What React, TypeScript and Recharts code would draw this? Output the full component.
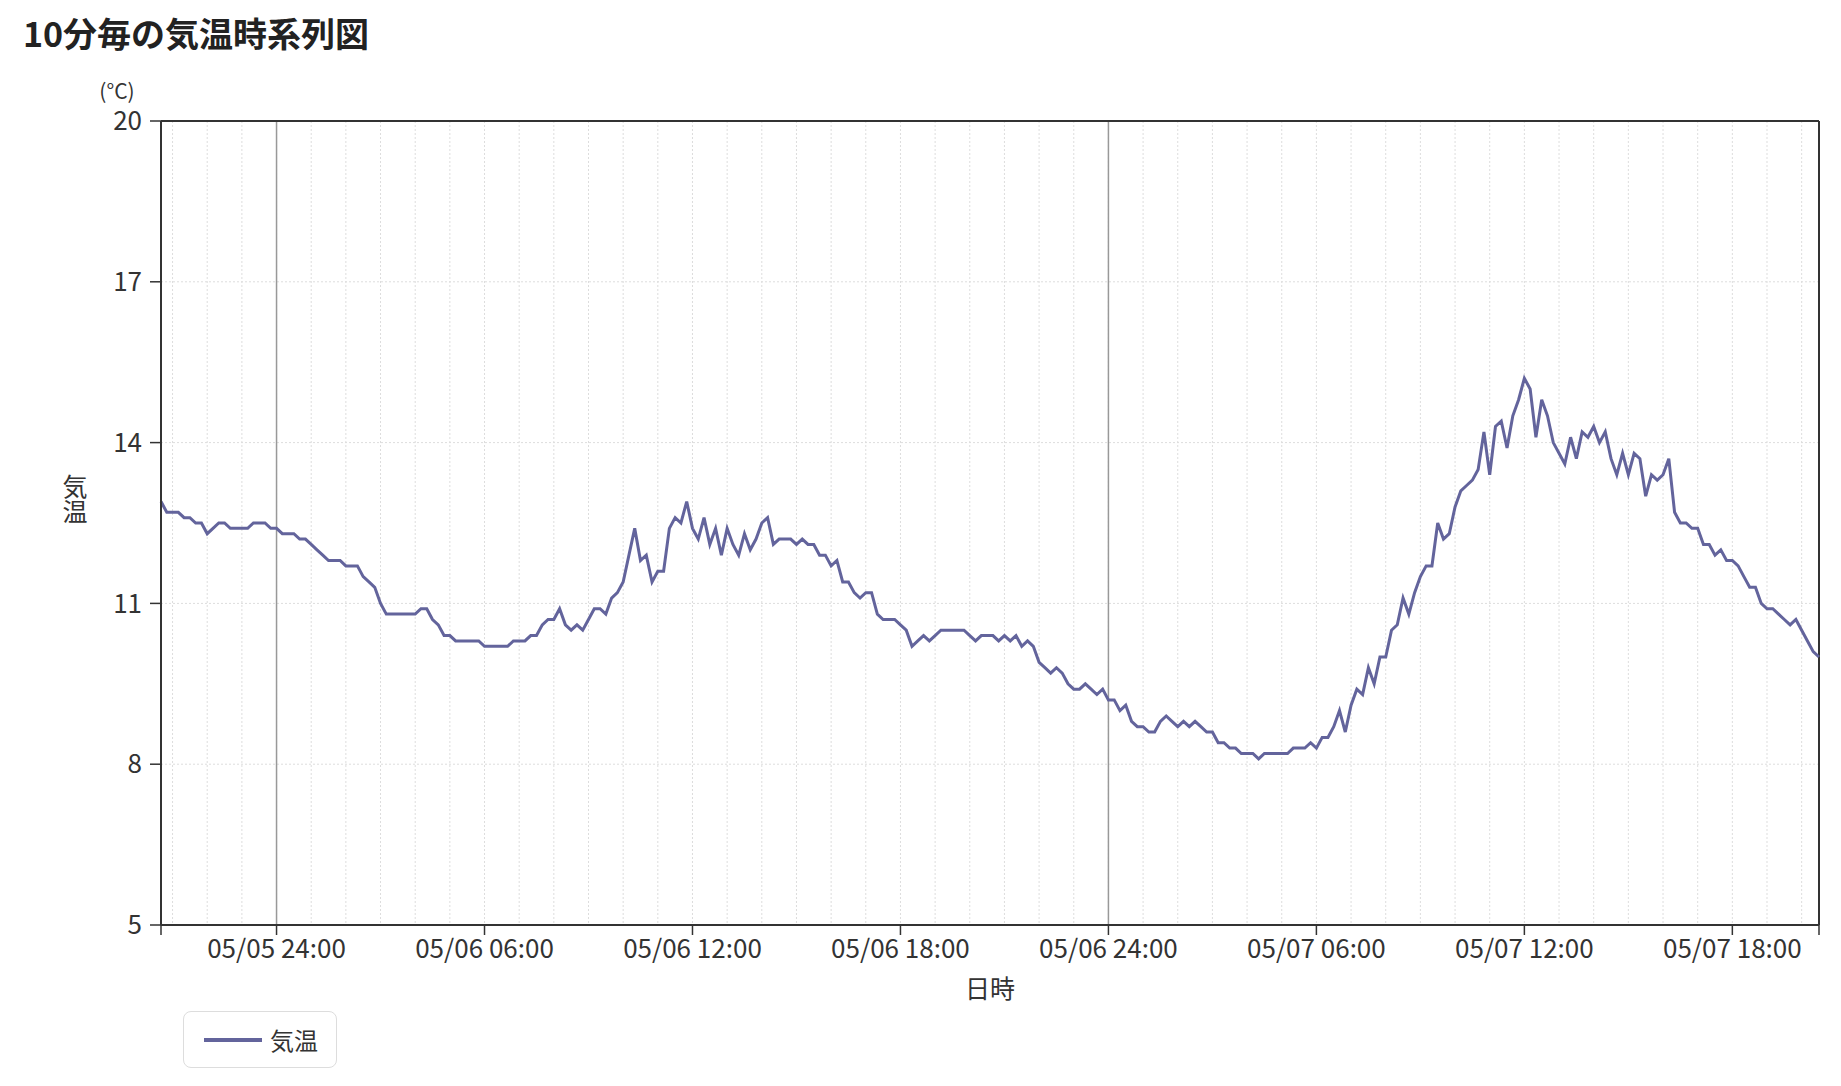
import { LineChart, Line, XAxis, YAxis, CartesianGrid, ReferenceLine, Legend } from "recharts";

const FONT = "'Noto Sans CJK JP', 'Noto Sans', sans-serif";
const LINE_COLOR = "#63649c";
const AXIS_COLOR = "#333";

// 05/05 20:40 から10分毎 (分は 05/05 00:00 起点)
const startMinute = 20 * 60 + 40;
const stepMinutes = 10;

const temps = [
  12.9, 12.7, 12.7, 12.7, 12.6, 12.6, 12.5, 12.5, 12.3, 12.4,
  12.5, 12.5, 12.4, 12.4, 12.4, 12.4, 12.5, 12.5, 12.5, 12.4,
  12.4, 12.3, 12.3, 12.3, 12.2, 12.2, 12.1, 12.0, 11.9, 11.8,
  11.8, 11.8, 11.7, 11.7, 11.7, 11.5, 11.4, 11.3, 11.0, 10.8,
  10.8, 10.8, 10.8, 10.8, 10.8, 10.9, 10.9, 10.7, 10.6, 10.4,
  10.4, 10.3, 10.3, 10.3, 10.3, 10.3, 10.2, 10.2, 10.2, 10.2,
  10.2, 10.3, 10.3, 10.3, 10.4, 10.4, 10.6, 10.7, 10.7, 10.9,
  10.6, 10.5, 10.6, 10.5, 10.7, 10.9, 10.9, 10.8, 11.1, 11.2,
  11.4, 11.9, 12.4, 11.8, 11.9, 11.4, 11.6, 11.6, 12.4, 12.6,
  12.5, 12.9, 12.4, 12.2, 12.6, 12.1, 12.4, 11.9, 12.4, 12.1,
  11.9, 12.3, 12.0, 12.2, 12.5, 12.6, 12.1, 12.2, 12.2, 12.2,
  12.1, 12.2, 12.1, 12.1, 11.9, 11.9, 11.7, 11.8, 11.4, 11.4,
  11.2, 11.1, 11.2, 11.2, 10.8, 10.7, 10.7, 10.7, 10.6, 10.5,
  10.2, 10.3, 10.4, 10.3, 10.4, 10.5, 10.5, 10.5, 10.5, 10.5,
  10.4, 10.3, 10.4, 10.4, 10.4, 10.3, 10.4, 10.3, 10.4, 10.2,
  10.3, 10.2, 9.9, 9.8, 9.7, 9.8, 9.7, 9.5, 9.4, 9.4,
  9.5, 9.4, 9.3, 9.4, 9.2, 9.2, 9.0, 9.1, 8.8, 8.7,
  8.7, 8.6, 8.6, 8.8, 8.9, 8.8, 8.7, 8.8, 8.7, 8.8,
  8.7, 8.6, 8.6, 8.4, 8.4, 8.3, 8.3, 8.2, 8.2, 8.2,
  8.1, 8.2, 8.2, 8.2, 8.2, 8.2, 8.3, 8.3, 8.3, 8.4,
  8.3, 8.5, 8.5, 8.7, 9.0, 8.6, 9.1, 9.4, 9.3, 9.8,
  9.5, 10.0, 10.0, 10.5, 10.6, 11.1, 10.8, 11.2, 11.5, 11.7,
  11.7, 12.5, 12.2, 12.3, 12.8, 13.1, 13.2, 13.3, 13.5, 14.2,
  13.4, 14.3, 14.4, 13.9, 14.5, 14.8, 15.2, 15.0, 14.1, 14.8,
  14.5, 14.0, 13.8, 13.6, 14.1, 13.7, 14.2, 14.1, 14.3, 14.0,
  14.2, 13.7, 13.4, 13.8, 13.4, 13.8, 13.7, 13.0, 13.4, 13.3,
  13.4, 13.7, 12.7, 12.5, 12.5, 12.4, 12.4, 12.1, 12.1, 11.9,
  12.0, 11.8, 11.8, 11.7, 11.5, 11.3, 11.3, 11.0, 10.9, 10.9,
  10.8, 10.7, 10.6, 10.7, 10.5, 10.3, 10.1, 10.0,
];

const majorTickMinutes = [1440, 1800, 2160, 2520, 2880, 3240, 3600, 3960];
const majorTickLabels = [
  "05/05 24:00", "05/06 06:00", "05/06 12:00", "05/06 18:00",
  "05/06 24:00", "05/07 06:00", "05/07 12:00", "05/07 18:00",
];
const midnightMinutes = [1440, 2880];
const yTicks = [5, 8, 11, 14, 17, 20];

const data = temps.map((v, i) => ({ t: startMinute + i * stepMinutes, temp: v }));
const endMinute = data[data.length - 1].t;
const hourTicks: number[] = [];
for (let m = Math.ceil(startMinute / 60) * 60; m <= endMinute; m += 60) hourTicks.push(m);
const xTicks = [startMinute, ...hourTicks, endMinute];

function XTick(props: any) {
  const { x, y, payload } = props;
  const idx = majorTickMinutes.indexOf(payload.value);
  const isEnd = payload.value === startMinute || payload.value === endMinute;
  if (idx < 0 && !isEnd) return <g />;
  return (
    <g>
      <line x1={x} x2={x} y1={y - 14} y2={y - 4} stroke={AXIS_COLOR} strokeWidth={1.5} />
      {idx >= 0 && (
        <text x={x} y={y} dy="0.72em" textAnchor="middle" fill={AXIS_COLOR} fontSize={26} fontFamily={FONT}>
          {majorTickLabels[idx]}
        </text>
      )}
    </g>
  );
}

const yLabel = () => (
  <g fontFamily={FONT} fill={AXIS_COLOR}>
    <text x={117} y={90} textAnchor="middle" dominantBaseline="central" fontSize={21}>(°C)</text>
    <text
      x={75}
      y={499}
      textAnchor="middle"
      fontSize={25}
      style={{ writingMode: "vertical-rl" }}
    >
      気温
    </text>
  </g>
);

const xLabel = () => (
  <text x={990} y={987} textAnchor="middle" dominantBaseline="central" fontSize={25} fontFamily={FONT} fill={AXIS_COLOR}>
    日時
  </text>
);

const legendContent = () => (
  <div
    style={{
      boxSizing: "border-box", width: 154, height: 57, border: "1.5px solid #ddd", borderRadius: 8,
      display: "flex", alignItems: "center", fontFamily: FONT, fontSize: 24, color: AXIS_COLOR,
    }}
  >
    <span style={{ display: "inline-block", width: 58, height: 4, background: LINE_COLOR, marginLeft: 20 }} />
    <span style={{ marginLeft: 8 }}>気温</span>
  </div>
);

export default function App() {
  return (
    <div style={{ position: "absolute", left: 0, top: 0, width: 1841, height: 1086, background: "#fff" }}>
      <div
        style={{
          position: "absolute", left: 23, top: 16, fontFamily: FONT, fontWeight: 700,
          fontSize: 34, lineHeight: "34px", color: "#222", whiteSpace: "nowrap",
        }}
      >
        10分毎の気温時系列図
      </div>
      <LineChart width={1841} height={1086} data={data} margin={{ top: 121, right: 22, bottom: 131, left: 101 }}>
        <CartesianGrid stroke="#ddd" strokeDasharray="2 2" />
        <XAxis
          dataKey="t"
          type="number"
          domain={[startMinute, endMinute]}
          ticks={xTicks}
          interval={0}
          height={30}
          tickSize={10}
          tickMargin={4}
          tickLine={false}
          axisLine={{ stroke: AXIS_COLOR, strokeWidth: 2 }}
          tick={<XTick />}
          label={{ content: xLabel }}
        />
        <YAxis
          type="number"
          domain={[5, 20]}
          ticks={yTicks}
          interval={0}
          width={60}
          tickSize={11}
          tickMargin={8}
          axisLine={{ stroke: AXIS_COLOR, strokeWidth: 2 }}
          tickLine={{ stroke: AXIS_COLOR, strokeWidth: 1.5 }}
          tick={{ fill: AXIS_COLOR, fontSize: 26, fontFamily: FONT }}
          label={{ content: yLabel }}
        />
        {midnightMinutes.map((m) => (
          <ReferenceLine key={m} x={m} stroke="#999" strokeWidth={1.5} />
        ))}
        <ReferenceLine y={20} stroke={AXIS_COLOR} strokeWidth={2} />
        <ReferenceLine x={endMinute} stroke={AXIS_COLOR} strokeWidth={2} />
        <Legend
          layout="horizontal"
          verticalAlign="middle"
          align="center"
          wrapperStyle={{ left: 183, top: 1011, width: 154, height: 57 }}
          content={legendContent}
        />
        <Line
          type="linear"
          dataKey="temp"
          name="気温"
          stroke={LINE_COLOR}
          strokeWidth={3}
          dot={false}
          isAnimationActive={false}
        />
      </LineChart>
    </div>
  );
}
